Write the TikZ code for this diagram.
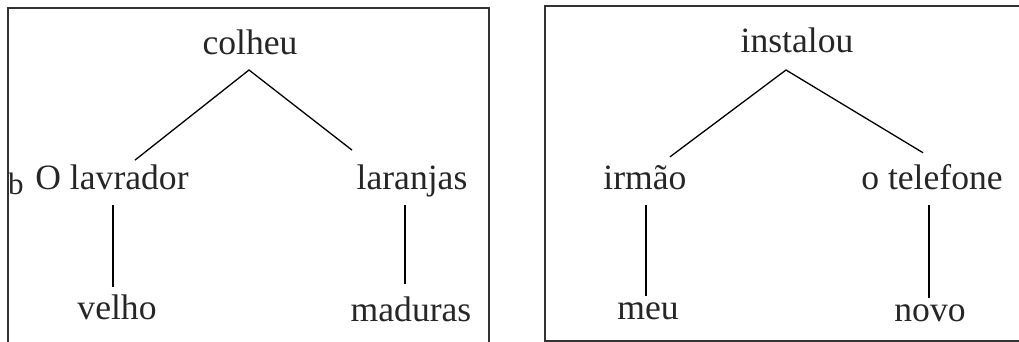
\documentclass[tikz,border=0pt]{standalone}
\usepackage{fontspec}
\setmainfont{Liberation Serif}
\begin{document}
\begin{tikzpicture}[x=1pt,y=-1pt,
    every node/.style={inner sep=0pt,anchor=base,text=black!85,
      font=\fontsize{35.6}{40}\selectfont},
    frame/.style={draw=black!80,line width=1.6pt}]
  \useasboundingbox (0,0) rectangle (1019,342);
  \draw[frame] (8,8) rectangle (489,360);
  \draw[frame] (545,6) rectangle (1040,341);
  \draw
    (250,55) node (colheu){colheu}
    (112,189) node (lavrador){O lavrador}
    (412,189) node (laranjas){laranjas}
    (117,319) node (velho){velho}
    (411,321) node (maduras){maduras}
    (797,53) node (instalou){instalou}
    (645,189) node (irmao){irmão}
    (932,189) node (telefone){o telefone}
    (648,319) node (meu){meu}
    (930,321) node (novo){novo};
  \node[font=\fontsize{31}{33}\selectfont] (stray) at (16,194) {b};
  \coordinate (colheu-b) at ([shift={(-1,15)}]colheu.base);
  \coordinate (instalou-b) at ([shift={(-11,17)}]instalou.base);
  \begin{scope}[line width=1.3pt]
    \draw ([shift={(23,-4)}]lavrador.north) to (colheu-b)
      to ([shift={(-60,-14)}]laranjas.north);
    \draw ([shift={(1,16)}]lavrador.base) to ([shift={(-4,-7)}]velho.north);
    \draw ([shift={(-7,16)}]laranjas.base) to ([shift={(-6,-12)}]maduras.north);
    \draw ([shift={(25,-8)}]irmao.north) to (instalou-b)
      to ([shift={(-9,-11)}]telefone.north);
    \draw ([shift={(1,16)}]irmao.base) to ([shift={(-2,-6)}]meu.north);
    \draw ([shift={(-3,16)}]telefone.base) to ([shift={(-1,-6)}]novo.north);
  \end{scope}
\end{tikzpicture}
\end{document}
